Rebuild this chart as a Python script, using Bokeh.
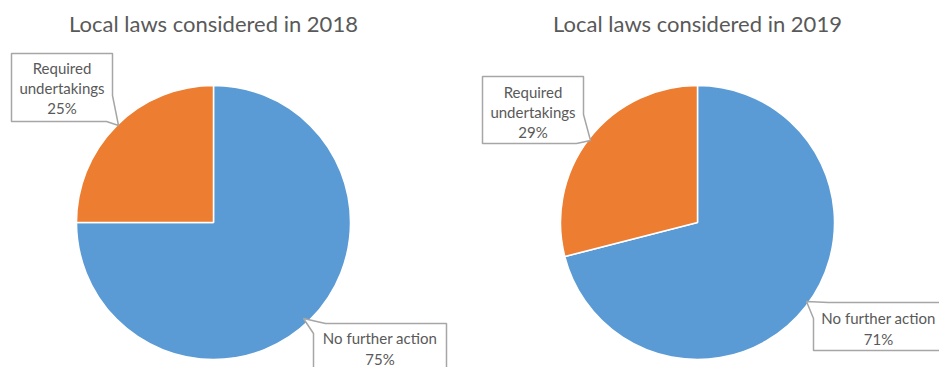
import numpy as np
from bokeh.plotting import figure
from bokeh.models import Range1d, ColumnDataSource
from bokeh.embed import file_html
from bokeh.resources import INLINE
from bokeh.core.properties import value

# ---- data ----
years = ["2018", "2019"]
titles = ["Local laws considered in 2018", "Local laws considered in 2019"]
categories = ["No further action", "Required undertakings"]
label_lines = [["No further action"], ["Required", "undertakings"]]
values_2018 = [75, 25]
values_2019 = [71, 29]
series = [values_2018, values_2019]
colors = ["#5B9BD5", "#ED7D31"]

# ---- layout (pixel coordinates, y measured from top) ----
W, H = 939, 367
FONT = "Lato"
TXT = "#595959"
centers_x = [213, 697]
center_y = 222
radius = 137
title_y = 23

def Y(v):
    return H - v

# callout layout per (year, category): box, tail base points, tip, text line y's
callouts = {
    (0, 1): dict(box=(11, 53, 112, 121), kind="br", base=(95, 106), tip=(118, 125), ty=[67, 87, 107]),
    (1, 1): dict(box=(482, 76, 583, 143), kind="br", base=(114, 576), tip=(590, 140), ty=[91, 111, 131]),
    (0, 0): dict(box=(313, 323, 446, 385), kind="tl", base=(333, 325), tip=(303, 318), ty=[337, 358]),
    (1, 0): dict(box=(813, 302, 945, 350), kind="tl", base=(318, 828), tip=(806, 301), ty=[317, 338]),
}

p = figure(width=W, height=H, x_range=Range1d(0, W), y_range=Range1d(0, H),
           output_backend="svg", toolbar_location=None, min_border=0,
           x_axis_location=None, y_axis_location=None)
p.grid.visible = False
p.outline_line_color = None
p.background_fill_color = "white"
p.border_fill_color = "white"

for yi, vals in enumerate(series):
    v = np.array(vals, dtype=float)
    frac = v / v.sum()
    cum_end = np.cumsum(frac)
    cum_start = cum_end - frac
    # slices run clockwise from 12 o'clock
    start = np.pi / 2 - cum_end * 2 * np.pi
    end = np.pi / 2 - cum_start * 2 * np.pi
    src = ColumnDataSource(dict(
        x=[centers_x[yi]] * len(v), y=[Y(center_y)] * len(v),
        start=start, end=end, color=colors, cat=categories))
    p.wedge(x="x", y="y", radius=radius, start_angle="start", end_angle="end",
            fill_color="color", line_color="white", line_width=1.5, source=src)

    # title
    p.text(x=[centers_x[yi]], y=[Y(title_y)], text=[titles[yi]],
           text_font=value(FONT), text_font_size="22px", text_color=TXT,
           text_align="center", text_baseline="middle")

    # callouts
    for ci, cat in enumerate(categories):
        c = callouts[(yi, ci)]
        x0, y0, x1, y1 = c["box"]
        yb, xb = c["base"]
        if c["kind"] == "br":
            pts = [(x0, y0), (x1, y0), (x1, yb), c["tip"], (xb, y1), (x0, y1)]
        else:
            pts = [c["tip"], (xb, y0), (x1, y0), (x1, y1), (x0, y1), (x0, yb)]
        p.patch(x=[a for a, b in pts], y=[Y(b) for a, b in pts],
                fill_color="white", line_color="#A6A6A6", line_width=1.5)
        lines = label_lines[ci] + [f"{vals[ci]}%"]
        cx = (x0 + x1) / 2
        if (yi, ci) == (1, 0):
            cx = 878
        p.text(x=[cx] * len(lines), y=[Y(t) for t in c["ty"]], text=lines,
               text_font=value(FONT), text_font_size="15px", text_color=TXT,
               text_align="center", text_baseline="middle")

open("out.html", "w").write(file_html(p, INLINE))
